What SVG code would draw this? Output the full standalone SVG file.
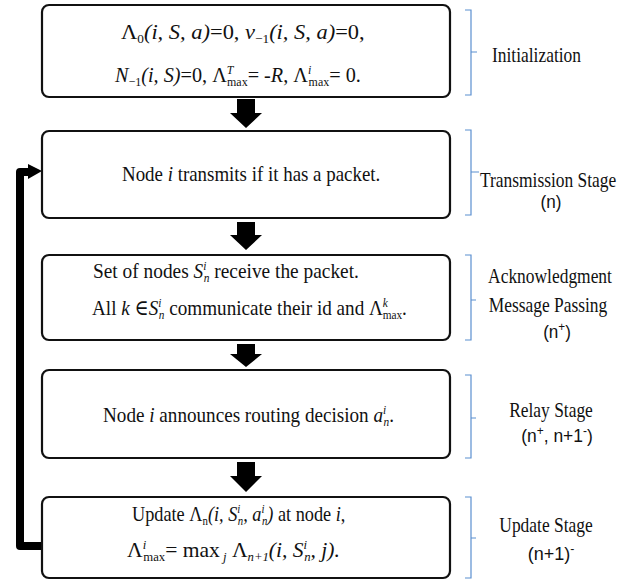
<svg xmlns="http://www.w3.org/2000/svg" width="628" height="582" viewBox="0 0 628 582">
<defs>
<style>
.box{fill:#fff;stroke:#111;stroke-width:2.2}
.t{font-size:22px;fill:#111}
.lb{font-size:21px;fill:#111}
.ls{font-size:19px;fill:#111}
.it{font-style:italic}
.sb{font-size:13px}
.sp{font-size:13px}
.br{fill:none;stroke:#5b8fd0;stroke-width:1.2}
.ba{fill:#000}
</style>
</defs>
<rect width="628" height="582" fill="#fff"/>

<g id="connectors">
<path d="M237 99H255V113H262L246 128L230 113H237Z" class="ba"/>
<path d="M237 222H255V235H262L246 250L230 235H237Z" class="ba"/>
<path d="M237 344H255V354H262L246 367L230 354H237Z" class="ba"/>
<path d="M237 462H255V476H262L246 492L230 476H237Z" class="ba"/>
<path d="M42 546H20V172H32" fill="none" stroke="#000" stroke-width="8" stroke-linejoin="round"/>
<path d="M28 164L42 171L28 179Z" class="ba"/>
</g>

<g id="init" font-family="Liberation Serif, DejaVu Serif, serif">
<rect class="box" x="42" y="5" width="408" height="92" rx="7"/>
<text class="t" transform="translate(121,39) scale(1.02 1)">Λ<tspan class="sb" dy="4">0</tspan><tspan dy="-4" class="it">(i, S, a)</tspan>=0, <tspan class="it">ν</tspan><tspan class="sb" dy="4">−1</tspan><tspan dy="-4" class="it">(i, S, a)</tspan>=0,</text>
<text class="t" transform="translate(115,82) scale(0.92 1)"><tspan class="it">N</tspan><tspan class="sb" dy="4">−1</tspan><tspan dy="-4" class="it">(i, S)</tspan>=0, Λ<tspan class="sp it" dy="-8">T</tspan><tspan class="sb" dx="-7" dy="12">max</tspan><tspan dy="-4">= -</tspan><tspan class="it">R</tspan>, Λ<tspan class="sp it" dy="-8">i</tspan><tspan class="sb" dx="-3" dy="12">max</tspan><tspan dy="-4">= 0.</tspan></text>
</g>
<g id="init-label" font-family="Liberation Serif, DejaVu Serif, serif">
<path class="br" d="M465 10H471V95H465M471 52H477"/>
<text class="lb" transform="translate(492,62) scale(0.83 1)">Initialization</text>
</g>

<g id="transmit" font-family="Liberation Serif, DejaVu Serif, serif">
<rect class="box" x="42" y="131" width="408" height="87" rx="7"/>
<text class="t" transform="translate(122,181) scale(0.86 1)">Node <tspan class="it">i</tspan> transmits if it has a packet.</text>
</g>
<g id="transmit-label" font-family="Liberation Serif, DejaVu Serif, serif">
<path class="br" d="M465 130H471V215H465M471 172H479"/>
<text class="lb" transform="translate(480,187) scale(0.83 1)">Transmission Stage</text>
<text class="ls" font-family="Liberation Sans, Arial, sans-serif" text-anchor="middle" transform="translate(551,208) scale(0.9 1)">(n)</text>
</g>

<g id="ack" font-family="Liberation Serif, DejaVu Serif, serif">
<rect class="box" x="42" y="255" width="408" height="85" rx="7"/>
<text class="t" transform="translate(93,278) scale(0.88 1)">Set of nodes  <tspan class="it">S</tspan><tspan class="sp it" dy="-8">i</tspan><tspan class="sb it" dx="-3" dy="12">n</tspan><tspan dy="-4">  receive the packet.</tspan></text>
<text class="t" transform="translate(92,315) scale(0.87 1)">All <tspan class="it">k</tspan> ∈<tspan class="it">S</tspan><tspan class="sp it" dy="-8">i</tspan><tspan class="sb it" dx="-3" dy="12">n</tspan><tspan dy="-4"> communicate their id and Λ</tspan><tspan class="sp it" dy="-8">k</tspan><tspan class="sb" dx="-6" dy="12">max</tspan><tspan dy="-4">.</tspan></text>
</g>
<g id="ack-label" font-family="Liberation Serif, DejaVu Serif, serif">
<path class="br" d="M465 255H471V340H465M471 300H476"/>
<text class="lb" text-anchor="middle" transform="translate(550,283) scale(0.83 1)">Acknowledgment</text>
<text class="lb" text-anchor="middle" transform="translate(548,312) scale(0.83 1)">Message Passing</text>
<text class="ls" font-family="Liberation Sans, Arial, sans-serif" text-anchor="middle" transform="translate(557,338) scale(0.9 1)">(n<tspan class="sp" dy="-7">+</tspan><tspan dy="7">)</tspan></text>
</g>

<g id="relay" font-family="Liberation Serif, DejaVu Serif, serif">
<rect class="box" x="42" y="370" width="408" height="88" rx="7"/>
<text class="t" transform="translate(103,422) scale(0.87 1)">Node <tspan class="it">i</tspan> announces routing decision <tspan class="it">a</tspan><tspan class="sp it" dy="-8">i</tspan><tspan class="sb it" dx="-3" dy="12">n</tspan><tspan dy="-4">.</tspan></text>
</g>
<g id="relay-label" font-family="Liberation Serif, DejaVu Serif, serif">
<path class="br" d="M465 375H471V458H465M471 418H476"/>
<text class="lb" text-anchor="middle" transform="translate(551,417) scale(0.83 1)">Relay Stage</text>
<text class="ls" font-family="Liberation Sans, Arial, sans-serif" text-anchor="middle" transform="translate(557,442) scale(0.92 1)">(n<tspan class="sp" dy="-7">+</tspan><tspan dy="7">, n+1</tspan><tspan class="sp" dy="-7">-</tspan><tspan dy="7">)</tspan></text>
</g>

<g id="update" font-family="Liberation Serif, DejaVu Serif, serif">
<rect class="box" x="42" y="497" width="408" height="81" rx="7"/>
<text class="t" transform="translate(132,521) scale(0.83 1)">Update Λ<tspan class="sb" dy="4">n</tspan><tspan dy="-4" class="it">(i, S</tspan><tspan class="sp it" dy="-8">i</tspan><tspan class="sb it" dx="-3" dy="12">n</tspan><tspan dy="-4" class="it">, a</tspan><tspan class="sp it" dy="-8">i</tspan><tspan class="sb it" dx="-3" dy="12">n</tspan><tspan dy="-4" class="it">)</tspan> at node <tspan class="it">i</tspan>,</text>
<text class="t" transform="translate(127,557) scale(0.98 1)">Λ<tspan class="sp it" dy="-8">i</tspan><tspan class="sb" dx="-3" dy="12">max</tspan><tspan dy="-4">= max</tspan><tspan class="sb it" dy="4"> j</tspan><tspan dy="-4"> Λ</tspan><tspan class="sb it" dy="4">n+1</tspan><tspan dy="-4" class="it">(i, S</tspan><tspan class="sp it" dy="-8">i</tspan><tspan class="sb it" dx="-3" dy="12">n</tspan><tspan dy="-4" class="it">, j).</tspan></text>
</g>
<g id="update-label" font-family="Liberation Serif, DejaVu Serif, serif">
<path class="br" d="M465 497H471V578H465M471 538H476"/>
<text class="lb" text-anchor="middle" transform="translate(546,532) scale(0.83 1)">Update Stage</text>
<text class="ls" font-family="Liberation Sans, Arial, sans-serif" text-anchor="middle" transform="translate(551,560) scale(0.95 1)">(n+1)<tspan class="sp" dy="-7">-</tspan></text>
</g>
</svg>
